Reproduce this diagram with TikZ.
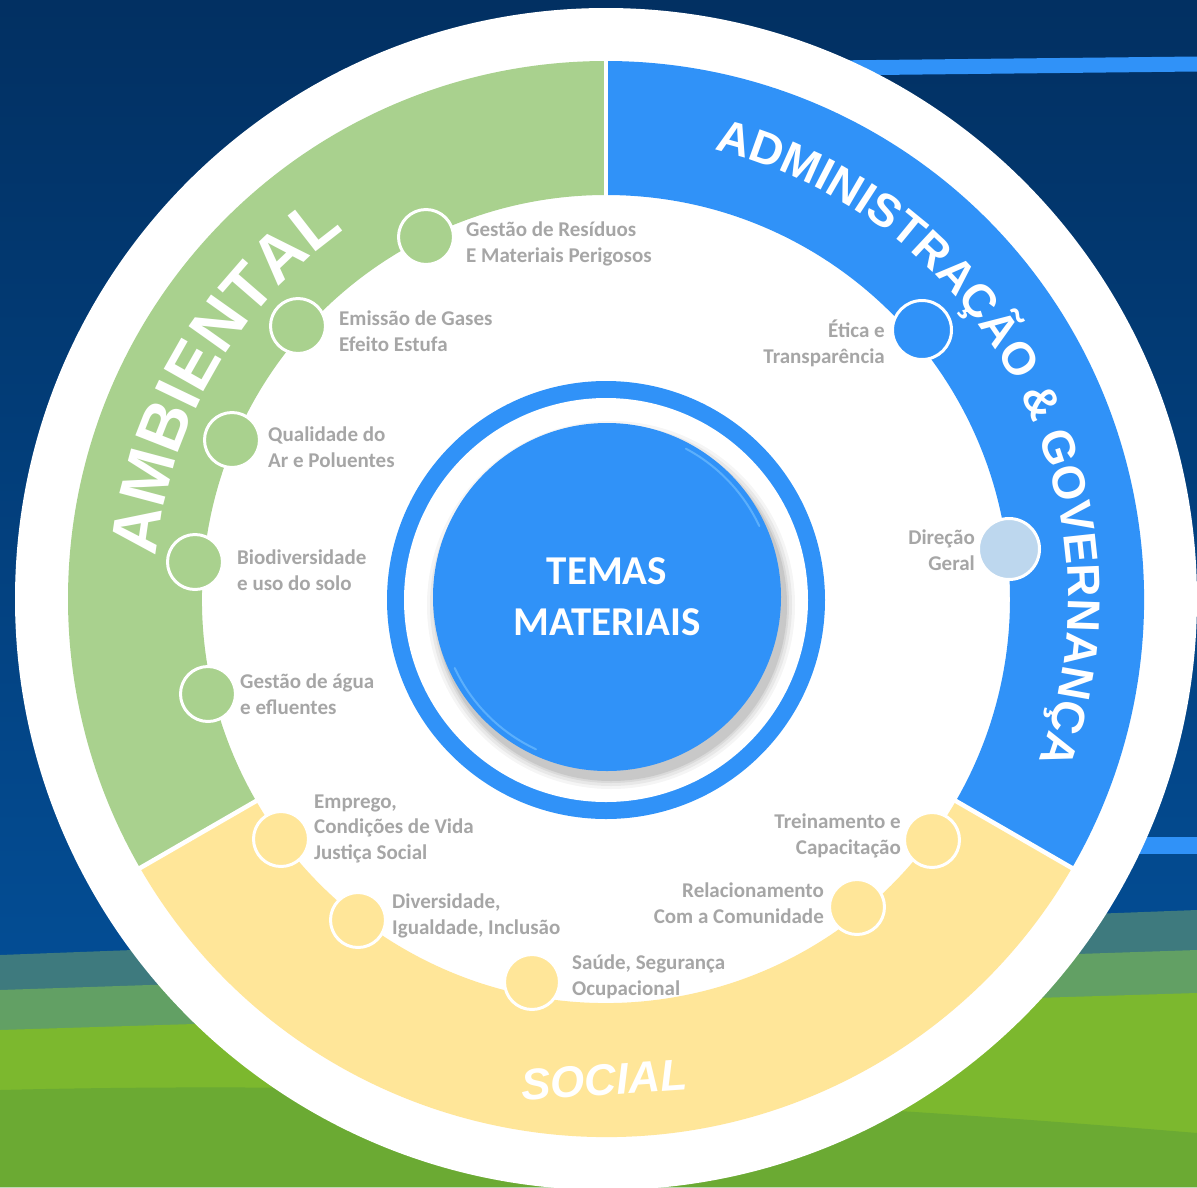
\documentclass[tikz,border=0pt]{standalone}
\usepackage{fontspec}
\setmainfont{Carlito}
\newfontfamily\ringfont{Liberation Sans}
\usetikzlibrary{decorations.text,calc}
\definecolor{navyTop}{RGB}{2,48,98}
\definecolor{navyBot}{RGB}{3,78,150}
\definecolor{bandTeal}{RGB}{62,122,126}
\definecolor{bandGG}{RGB}{98,160,100}
\definecolor{bandYG}{RGB}{124,184,46}
\definecolor{bandGr}{RGB}{107,170,51}
\definecolor{segGreen}{RGB}{169,209,142}
\definecolor{segBlue}{RGB}{48,146,248}
\definecolor{segYellow}{RGB}{255,230,153}
\definecolor{ltBlue}{RGB}{189,215,238}
\definecolor{labGray}{RGB}{166,166,166}
\definecolor{rimBlue}{RGB}{120,195,255}
\begin{document}
\begin{tikzpicture}[x=1pt,y=1pt,
  dot/.style={circle, draw=white, line width=3pt, minimum size=55pt, inner sep=0pt},
  labL/.style={font=\bfseries\fontsize{21}{25.5}\selectfont, text=labGray, align=left, inner sep=0pt, anchor=base west},
  labR/.style={font=\bfseries\fontsize{21}{25.5}\selectfont, text=labGray, align=right, inner sep=0pt, anchor=base east},
  sep/.style={white, line width=4.5pt}]
\useasboundingbox (0,0) rectangle (1197,-1187);
\begin{scope}
\clip (0,0) rectangle (1197,-1187);
% background
\shade[top color=navyTop, bottom color=navyBot] (0,0) rectangle (1197,-1000);
\fill[bandTeal] (0,-955) -- (1197,-910) -- (1197,-1187) -- (0,-1187) -- cycle;
\fill[bandGG] (0,-990) -- (1197,-950) -- (1197,-1187) -- (0,-1187) -- cycle;
\fill[bandYG] (0,-1030) -- (1197,-993) -- (1197,-1187) -- (0,-1187) -- cycle;
\fill[bandGr] (0,-1090) .. controls (400,-1080) and (800,-1100) .. (1197,-1133) -- (1197,-1187) -- (0,-1187) -- cycle;
% blue stripes
\draw[segBlue, line width=15pt] (830,-68) -- (1197,-64);
\draw[segBlue, line width=17pt] (1080,-845.5) -- (1197,-845.5);
% white disk
\fill[white] (606,-599) circle (591);
\begin{scope}[shift={(606,-599)}]
\fill[segGreen] (90:538) arc[start angle=90, end angle=210, radius=538] -- (210:404) arc[start angle=210, end angle=90, radius=404] -- cycle;
\fill[segYellow] (210:538) arc[start angle=210, end angle=330, radius=538] -- (330:404) arc[start angle=330, end angle=210, radius=404] -- cycle;
\fill[segBlue] (330:538) arc[start angle=330, end angle=450, radius=538] -- (90:404) arc[start angle=90, end angle=-30, radius=404] -- cycle;
\foreach \a in {90,210,330} \draw[sep] (\a:395) -- (\a:545);
% ring titles
\path[decorate, decoration={text along path, text align=center,
  text={|\ringfont\bfseries\fontsize{66}{66}\selectfont\color{white}|AMBIENTAL}}]
  (205:452) arc[start angle=205, end angle=95, radius=452];
\path[decorate, decoration={text along path, text align=center,
  text={|\ringfont\bfseries\fontsize{46}{46}\selectfont\color{white}|ADMINISTRAÇÃO {\&} GOVERNANÇA}}]
  (103:462) arc[start angle=103, end angle=-47, radius=462];
% centre
\fill[segBlue] (0,-1) circle (219);
\fill[white] (0,-1) circle (202);
\foreach \r/\o in {184/0.04,181/0.05,178/0.06,176/0.08} \fill[black, opacity=\o] (5,-6) circle (\r);
\end{scope}
\node[circle, fill=segBlue, minimum size=348pt, inner sep=0pt, text=white, align=center,
  font=\bfseries\fontsize{41}{51}\selectfont] (core) at (607,-597) {TEMAS\\MATERIAIS};
\draw[rimBlue, opacity=0.6, line width=2pt, line cap=round] ($(core.center)+(62:168)$) arc[start angle=62, end angle=25, radius=168];
\draw[rimBlue, opacity=0.6, line width=2pt, line cap=round] ($(core.center)+(245:168)$) arc[start angle=245, end angle=205, radius=168];
\node[font=\ringfont\bfseries\itshape\fontsize{44}{44}\selectfont, text=white, rotate=4] (social) at (604,-1080) {SOCIAL};
% topic dots
\node[dot, fill=segGreen] (d1) at (426,-237) {};
\node[dot, fill=segGreen] (d2) at (298,-326) {};
\node[dot, fill=segGreen] (d3) at (232,-440) {};
\node[dot, fill=segGreen] (d4) at (195,-562) {};
\node[dot, fill=segGreen] (d5) at (208,-694) {};
\node[dot, fill=segBlue, minimum size=59pt] (d6) at (922,-330) {};
\node[dot, fill=ltBlue, minimum size=61pt] (d7) at (1009,-549) {};
\node[dot, fill=segYellow] (d8) at (281,-839) {};
\node[dot, fill=segYellow] (d9) at (358,-920) {};
\node[dot, fill=segYellow] (d10) at (532,-982) {};
\node[dot, fill=segYellow] (d11) at (857,-907) {};
\node[dot, fill=segYellow] (d12) at (932,-840) {};
% labels (anchored at the baseline of their last line)
\node[labL] (l1) at (466,-262) {Gestão de Resíduos\\E Materiais Perigosos};
\node[labL] (l2) at (339,-351) {Emissão de Gases\\Efeito Estufa};
\node[labL] (l3) at (268,-467) {Qualidade do\\Ar e Poluentes};
\node[labL] (l4) at (237,-590) {Biodiversidade\\e uso do solo};
\node[labL] (l5) at (240,-714) {Gestão de água\\e efluentes};
\node[labR] (l6) at (885,-363) {Ética e\\Transparência};
\node[labR] (l7) at (975,-570) {Direção\\Geral};
\node[labL] (l8) at (314,-859) {Emprego,\\Condições de Vida\\Justiça Social};
\node[labL] (l9) at (392,-934) {Diversidade,\\Igualdade, Inclusão};
\node[labL] (l10) at (572,-995) {Saúde, Segurança\\Ocupacional};
\node[labR] (l11) at (824,-923) {Relacionamento\\Com a Comunidade};
\node[labR] (l12) at (901,-854) {Treinamento e\\Capacitação};
\end{scope}
\end{tikzpicture}
\end{document}
